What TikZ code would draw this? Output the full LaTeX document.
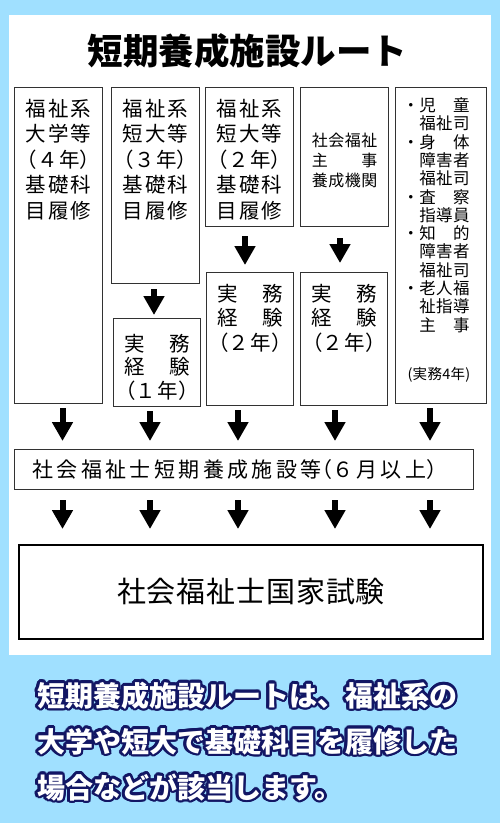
\documentclass[tikz,border=0pt]{standalone}
\usepackage{fontspec}
\setmainfont{Noto Sans CJK JP}
\usetikzlibrary{arrows.meta}
\definecolor{routesky}{RGB}{160,224,255}
\definecolor{routenavy}{RGB}{18,22,100}
\definecolor{boxline}{RGB}{50,50,50}
% half-width brackets
\newcommand{\lp}{{\addfontfeatures{RawFeature=+halt}（}}
\newcommand{\rp}{{\addfontfeatures{RawFeature=+halt}）}}
\newcommand{\boxfont}[3]{\fontsize{#1}{#2}\selectfont\addfontfeatures{LetterSpace=#3}}
% width, height, first baseline, lines
\newcommand{\routetext}[4]{\parbox[c][#2][t]{#1}{\centering\rule{0pt}{#3}#4}}

\begin{document}
\begin{tikzpicture}[
    x=1pt, y=-1pt,
    routebox/.style={draw=boxline, line width=1.1pt, inner sep=0pt,
                     anchor=north west},
    downarr/.style={line width=6pt, -{Triangle[width=20pt,length=19pt]}},
    titletext/.style={font=\fontsize{35.5}{35.5}\selectfont\bfseries, anchor=base},
    captext/.style={font=\fontsize{28}{28}\selectfont\bfseries,
                    anchor=base west, inner sep=0pt},
  ]
  % Hintergrund
  \fill[routesky] (0,0) rectangle (500,823);
  \fill[white] (9,15) rectangle (491,655);

  % Titel
  \node[titletext] (title) at (247.5,64) {短期養成施設ルート};

  % Obere Kaesten
  \node[routebox, font={\boxfont{20.5}{25.5}{9}}] (univ) at (14,87)
    {\routetext{88pt}{316pt}{28.6pt}{福祉系\\大学等\\\lp ４年\rp\\基礎科\\目履修}};
  \node[routebox, font={\boxfont{20.5}{25.5}{9}}] (jc3) at (111,87)
    {\routetext{88pt}{196pt}{28.6pt}{福祉系\\短大等\\\lp ３年\rp\\基礎科\\目履修}};
  \node[routebox, font={\boxfont{20.5}{23.5}{9}}] (jc3work) at (113,318)
    {\routetext{87pt}{88pt}{32.6pt}{実　務\\経　験\\\lp １年\rp}};
  \node[routebox, font={\boxfont{20.5}{25.5}{9}}] (jc2) at (205,87)
    {\routetext{88pt}{139pt}{28.6pt}{福祉系\\短大等\\\lp ２年\rp\\基礎科\\目履修}};
  \node[routebox, font={\boxfont{20.5}{24.5}{9}}] (jc2work) at (206,272)
    {\routetext{87pt}{133pt}{28.6pt}{実　務\\経　験\\\lp ２年\rp}};
  \node[routebox, font={\boxfont{16}{20}{3}}] (shuji) at (300,87)
    {\routetext{88pt}{139pt}{59pt}{社会福祉\\主　　事\\養成機関}};
  \node[routebox, font={\boxfont{20.5}{24.5}{9}}] (shujiwork) at (300,272)
    {\routetext{87pt}{133pt}{28.6pt}{実　務\\経　験\\\lp ２年\rp}};
  \node[routebox, font={\boxfont{16.5}{18.3}{2}}] (shoku) at (395,87)
    {\parbox[c][316pt][t]{91pt}{\raggedright\leftskip=7pt\rule{0pt}{24pt}%
      ・児　童\\　福祉司\\・身　体\\　障害者\\　福祉司\\・査　察\\　指導員\\%
      ・知　的\\　障害者\\　福祉司\\・老人福\\　祉指導\\　主　事\\[29.7pt]%
      \hspace*{5pt}{\fontsize{14.5}{18.3}\selectfont (実務4年)}}};

  % Mittlere und untere Kaesten
  \node[routebox, font={\boxfont{21}{21}{16}}] (shisetsu) at (14,449)
    {\parbox[c][40pt][c]{459pt}{\hspace*{18pt}社会福祉士短期養成施設等\lp ６月以上\rp}};
  \node[routebox, line width=2pt, draw=black, font={\boxfont{29}{29}{3}}] (exam) at (18,544)
    {\parbox[c][94pt][c]{464pt}{\centering 社会福祉士国家試験}};

  % Pfeile
  \draw[downarr, shorten <=5pt, shorten >=3pt] (jc3.south -| 154,0) -- (jc3work.north -| 154,0);
  \draw[downarr, shorten <=9pt, shorten >=7pt] (jc2.south -| 245,0) -- (jc2work.north -| 245,0);
  \draw[downarr, shorten <=11pt, shorten >=9pt] (shuji.south -| 340,0) -- (shujiwork.north -| 340,0);
  \foreach \n/\x in {univ/62.5, jc3work/150, jc2work/238, shujiwork/335, shoku/430} {
    \coordinate (col-\n) at (\x,0);
    \draw[downarr, shorten <=4pt, shorten >=8pt] (\n.south -| col-\n) -- (shisetsu.north -| col-\n);
    \draw[downarr, shorten <=10pt, shorten >=15pt] (shisetsu.south -| col-\n) -- (exam.north -| col-\n);
  }

  % Erlaeuterung
  \foreach \txt [count=\k] in {短期養成施設ルートは、福祉系の, 大学や短大で基礎科目を履修した, 場合などが該当します。} {
    \foreach \a in {0,22.5,...,337.5}
      \node[captext, text=routenavy, xshift={2.6*cos(\a)}, yshift={2.6*sin(\a)}]
        at (37,{706+46*(\k-1)}) {\txt};
    \node[captext, text=white] (cap\k) at (37,{706+46*(\k-1)}) {\txt};
  }
\end{tikzpicture}
\end{document}
